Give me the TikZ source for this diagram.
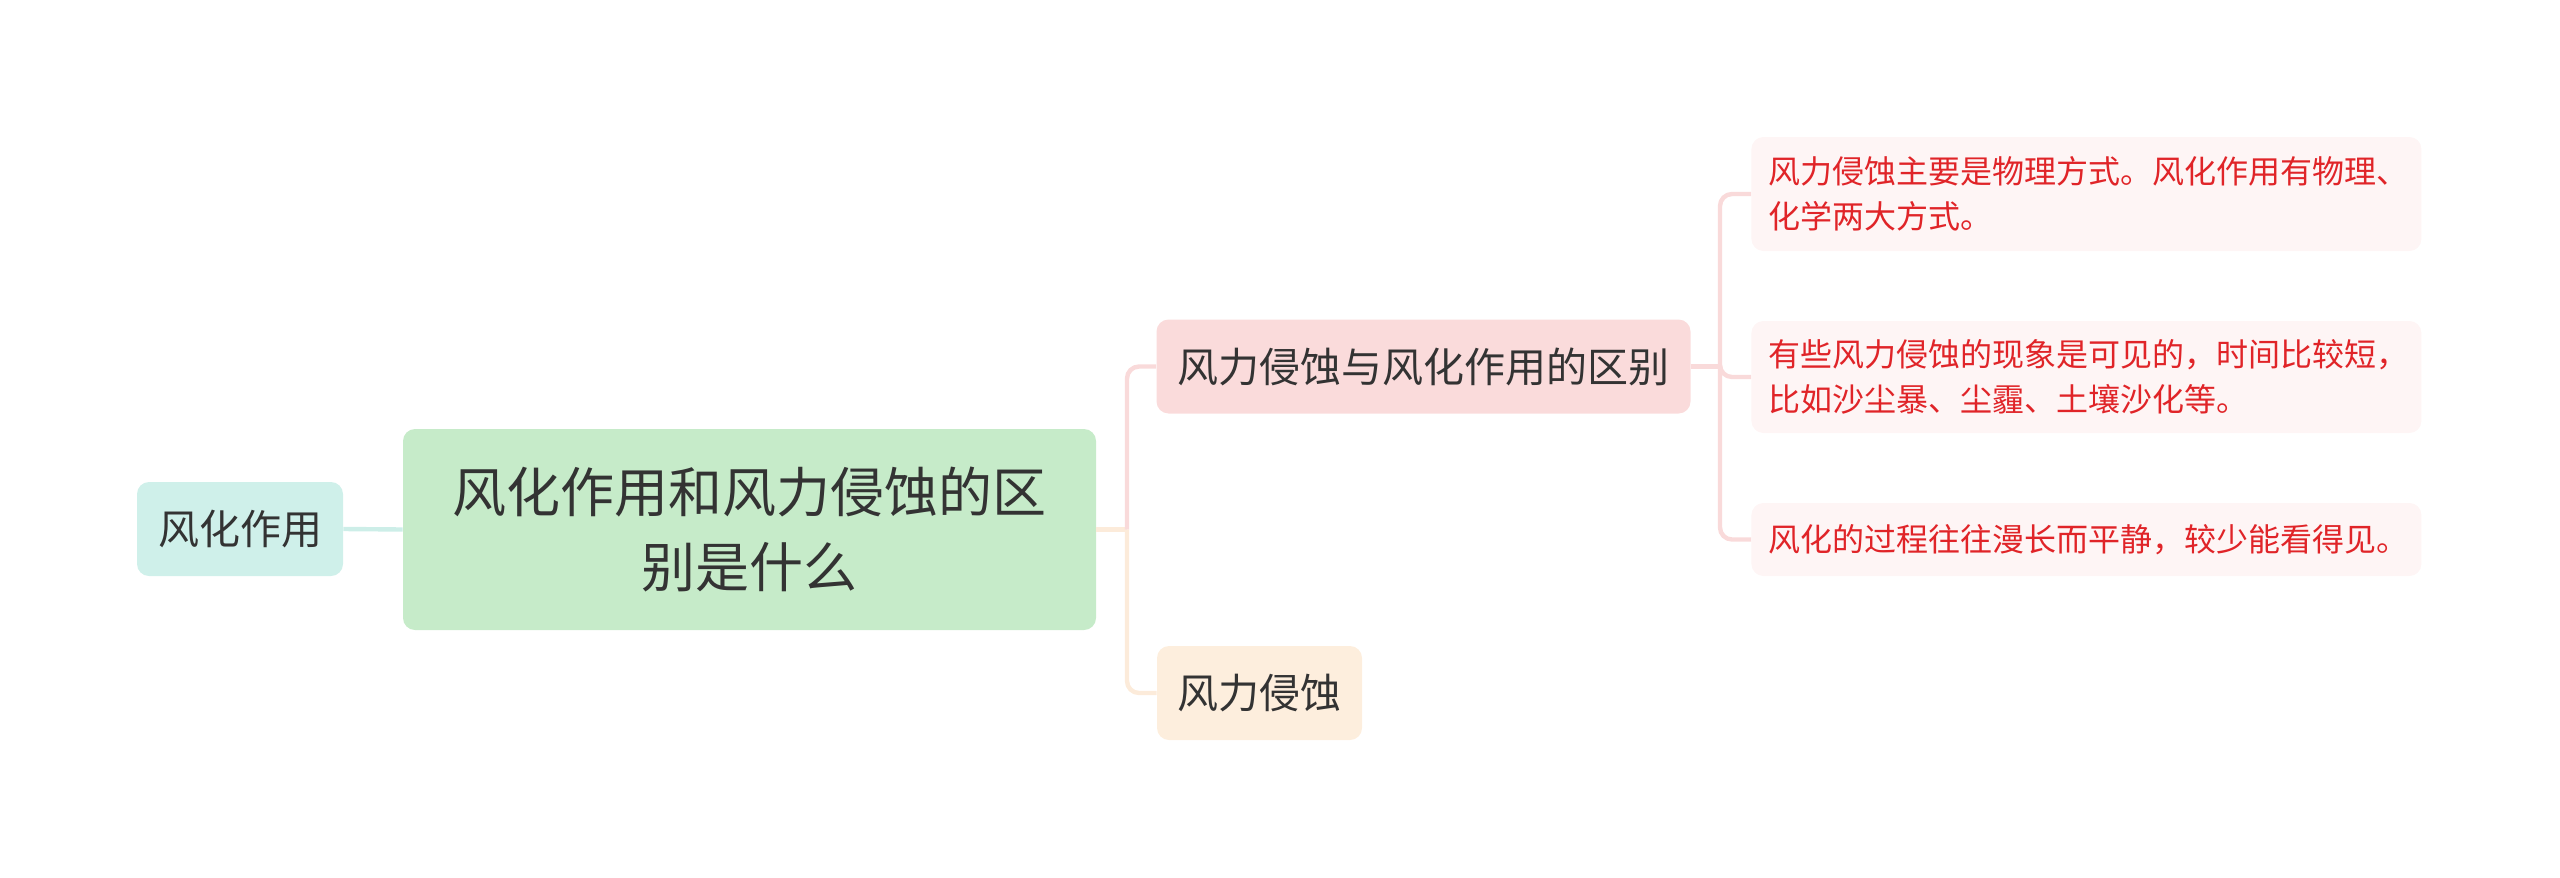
\documentclass[tikz,border=0pt]{standalone}
\usepackage{fontspec}
\setmainfont{Noto Sans CJK SC}
\definecolor{txt}{HTML}{333333}
\definecolor{redtxt}{HTML}{E02428}
\definecolor{cyanbg}{HTML}{CFF0EA}
\definecolor{greenbg}{HTML}{C6EBC9}
\definecolor{pinkbg}{HTML}{FADBDB}
\definecolor{peachbg}{HTML}{FDEEDD}
\definecolor{leafbg}{HTML}{FEF5F5}
\definecolor{cyanline}{HTML}{CDEEE8}
\definecolor{pinkline}{HTML}{F9DADA}
\definecolor{peachline}{HTML}{FCEBDA}
\begin{document}
\begin{tikzpicture}[x=0.5pt,y=-0.5pt,
  box/.style={rounded corners=6pt, inner sep=0pt, text=txt, align=center},
  leaf/.style={box, fill=leafbg, text=redtxt, anchor=west, minimum width=335pt,
    text width=318pt, align=left, font=\fontsize{16pt}{22.5pt}\selectfont},
  link/.style={line width=2.2pt, rounded corners=6pt},
]
\useasboundingbox (0,0) rectangle (2560,878);
\node[box, fill=cyanbg, minimum width=103pt, minimum height=47pt,
  font=\fontsize{20.5pt}{24pt}\selectfont] (left) at (240,529) {风化作用};
\node[box, fill=greenbg, minimum width=346.5pt, minimum height=100.5pt,
  font=\fontsize{27pt}{37.5pt}\selectfont] (root) at (749.5,529.5) {风化作用和风力侵蚀的区\\别是什么};
\node[box, fill=pinkbg, minimum width=267pt, minimum height=47pt,
  font=\fontsize{20.5pt}{24pt}\selectfont] (pink) at (1423.5,366.5) {风力侵蚀与风化作用的区别};
\node[box, fill=peachbg, minimum width=102.5pt, minimum height=47pt,
  font=\fontsize{20.5pt}{24pt}\selectfont] (peach) at (1259.5,693) {风力侵蚀};
\node[leaf, minimum height=57pt] (c1) at (1751,194) {风力侵蚀主要是物理方式。风化作用有物理、\\化学两大方式。};
\node[leaf, minimum height=56pt] (c2) at (1751,377) {有些风力侵蚀的现象是可见的，时间比较短，\\比如沙尘暴、尘霾、土壤沙化等。};
\node[leaf, minimum height=36.5pt] (c3) at (1751,539.5) {风化的过程往往漫长而平静，较少能看得见。};
\coordinate (J) at (1127,529.5);
\coordinate (K) at (1720,366.5);
\draw[link, cyanline] (left.east) -- (root.west);
\draw[link, peachline] (root.east) -- (J);
\draw[link, pinkline] (J) |- (pink.west);
\draw[link, peachline] (J) |- (peach.west);
\draw[link, pinkline] (pink.east) -- (K);
\draw[link, pinkline] (K) |- (c1.west);
\draw[link, pinkline] (K) |- (c2.west);
\draw[link, pinkline] (K) |- (c3.west);
\end{tikzpicture}
\end{document}
